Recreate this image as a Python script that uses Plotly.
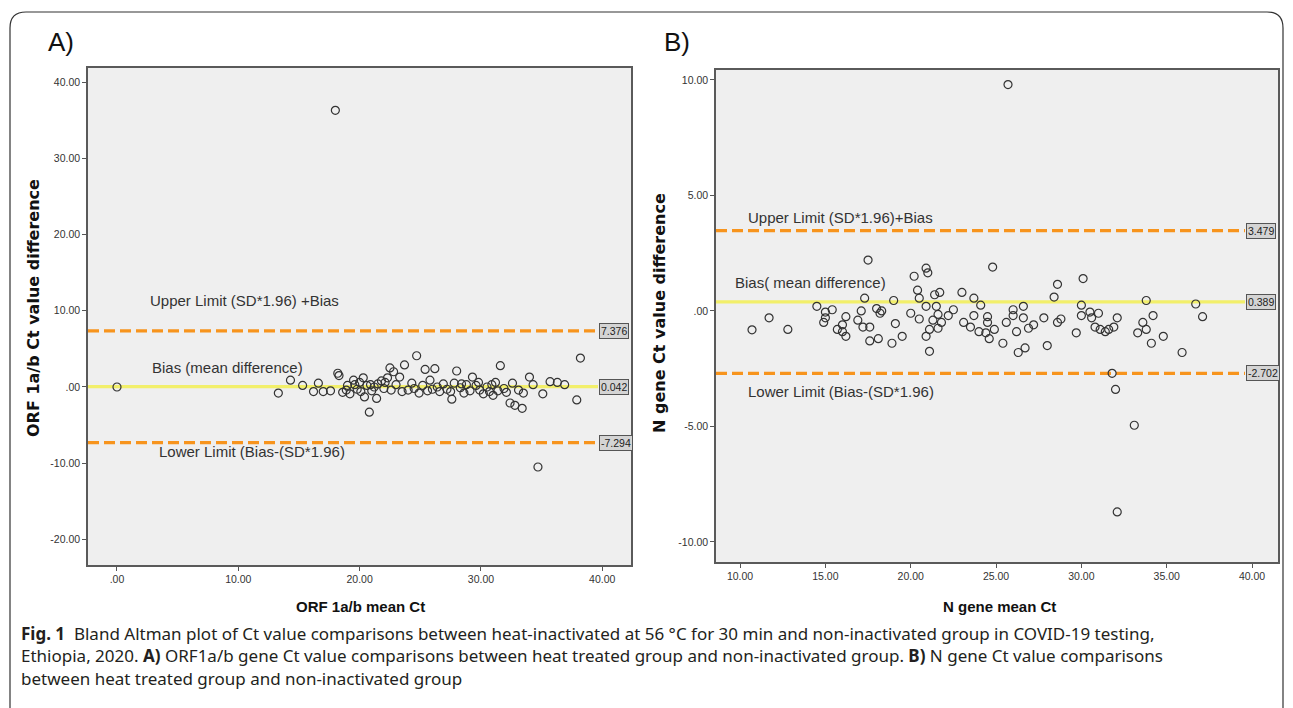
import plotly.graph_objects as go

# page is 1293x708; the browser adds an 8px body margin, so the figure is drawn 8px smaller
PAGE_W, PAGE_H, OFF = 1293, 708, 8
W, H = PAGE_W - OFF, PAGE_H - OFF

# ---------------- DATA ----------------
# Panel A: ORF1a/b
orf_mean = [0.0, 18.0, 13.3, 14.3, 15.3, 16.6, 16.2, 17.0, 17.6, 18.2, 18.3, 18.6, 18.9, 19.2, 19.5,
            19.6, 19.8, 20.0, 20.3, 20.4, 20.6, 20.8, 21.0, 21.4, 21.5, 21.8, 22.0, 22.3, 22.5, 22.8,
            22.6, 23.0, 23.3, 23.5, 23.7, 24.0, 24.3, 24.7, 24.9, 25.2, 25.4, 25.6, 25.8, 26.2, 26.4,
            26.6, 26.9, 27.2, 27.5, 27.6, 27.8, 28.0, 28.3, 28.6, 28.8, 29.1, 29.3, 29.6, 29.9, 30.2,
            30.5, 30.7, 31.0, 31.2, 31.4, 31.6, 31.9, 32.1, 32.4, 32.6, 32.8, 33.1, 33.4, 33.5, 34.0,
            34.3, 34.7, 35.1, 35.7, 36.3, 36.9, 37.9, 38.2, 19.0, 20.1, 20.9, 21.2, 22.1, 24.5, 26.0,
            28.4, 29.8, 30.9]
orf_diff = [0.0, 36.3, -0.8, 0.9, 0.2, 0.5, -0.6, -0.6, -0.5, 1.8, 1.5, -0.7, -0.4, -0.9, 0.9,
            0.3, -0.3, 0.6, 1.2, -1.3, 0.2, -3.3, -0.5, -1.5, 0.4, 0.8, -0.2, 1.2, 2.5, 2.0,
            -0.4, 0.3, 1.3, -0.6, 2.9, -0.4, 0.5, 4.1, -0.8, 0.2, 2.3, -0.5, 0.9, 2.4, 0.0,
            -0.6, 0.4, -0.3, -0.6, -1.6, 0.5, 2.1, -0.1, -0.8, 0.3, -0.5, 1.3, 0.2, -0.4, -0.9,
            0.0, -0.6, -1.1, 0.6, -0.5, 2.8, -0.2, -0.7, -2.1, 0.5, -2.4, -0.4, -2.8, -0.8, 1.3,
            0.3, -10.5, -0.9, 0.7, 0.6, 0.3, -1.7, 3.8, 0.2, -0.6, 0.3, 0.0, 0.6, -0.2, -0.3,
            0.4, 0.6, 0.3]
orf_upper, orf_bias, orf_lower = 7.376, 0.042, -7.294

# Panel B: N gene
n_mean = [10.7, 11.7, 12.8, 14.5, 14.9, 15.0, 15.4, 15.0, 15.7, 16.0, 16.2, 16.2, 16.0, 16.9, 17.1,
          17.3, 17.5, 17.2, 17.6, 17.6, 18.1, 18.0, 18.2, 18.3, 19.0, 19.1, 18.9, 19.5, 20.0, 20.2,
          20.4, 20.5, 20.5, 20.9, 21.0, 20.9, 21.1, 21.1, 20.9, 21.4, 21.7, 21.3, 21.6, 21.6, 21.8,
          21.5, 22.2, 22.5, 23.0, 23.1, 23.5, 23.7, 23.7, 24.0, 24.1, 24.5, 24.5, 24.4, 24.6, 24.8,
          24.9, 25.4, 25.6, 26.0, 26.0, 26.2, 26.3, 26.7, 26.6, 26.6, 26.9, 27.2, 27.8, 28.0, 28.4,
          28.6, 28.6, 28.8, 29.7, 30.1, 30.0, 30.0, 30.5, 30.6, 31.0, 30.8, 31.1, 31.4, 31.6, 31.9,
          32.1, 31.8, 32.0, 33.3, 33.6, 33.8, 33.8, 34.2, 34.1, 34.8, 35.9, 36.7, 37.1, 25.7, 33.1,
          32.1]
n_diff = [-0.82, -0.3, -0.8, 0.2, -0.5, -0.05, 0.05, -0.3, -0.8, -0.6, -0.25, -1.1, -0.9, -0.4, 0.0,
          0.55, 2.2, -0.7, -0.7, -1.3, -1.2, 0.1, -0.1, 0.0, 0.45, -0.55, -1.4, -1.1, -0.1, 1.5,
          0.9, -0.35, 0.55, 1.85, 1.65, -1.1, -1.75, -0.8, 0.2, 0.7, 0.8, -0.4, -0.15, -0.75, -0.5,
          0.2, -0.2, 0.05, 0.8, -0.5, -0.7, 0.55, -0.2, -0.9, 0.25, -0.25, -0.5, -0.95, -1.2, 1.9,
          -0.8, -1.4, -0.5, 0.05, -0.2, -0.9, -1.8, -1.6, -0.3, 0.2, -0.75, -0.6, -0.3, -1.5, 0.6,
          1.15, -0.5, -0.35, -0.95, 1.4, 0.25, -0.2, -0.05, -0.3, -0.1, -0.7, -0.8, -0.9, -0.8, -0.7,
          -0.3, -2.7, -3.4, -0.95, -0.5, -0.8, 0.45, -0.2, -1.4, -1.1, -1.8, 0.3, -0.25, 9.8, -4.95,
          -8.7]
n_upper, n_bias, n_lower = 3.479, 0.389, -2.702

orf_yticks = [40, 30, 20, 10, 0, -10, -20]
orf_yticktext = ["40.00", "30.00", "20.00", "10.00", ".00", "-10.00", "-20.00"]
orf_xticks = [0, 10, 20, 30, 40]
orf_xticktext = [".00", "10.00", "20.00", "30.00", "40.00"]
n_yticks = [10, 5, 0, -5, -10]
n_yticktext = ["10.00", "5.00", ".00", "-5.00", "-10.00"]
n_xticks = [10, 15, 20, 25, 30, 35, 40]
n_xticktext = ["10.00", "15.00", "20.00", "25.00", "30.00", "35.00", "40.00"]

# ---------------- LAYOUT HELPERS (page pixel -> paper) ----------------
def px(x):
    return (x - OFF) / W

def py(y):
    return 1 - (y - OFF) / H

# panel frames in page pixels (left, top, right, bottom)
A_box = (88, 68, 631, 565)
B_box = (716, 70, 1278, 562)
A_xr, A_yr = [-2.39, 42.37], [-23.36, 41.86]
B_xr, B_yr = [8.59, 41.52], [-10.87, 10.43]

NARROW = "Liberation Sans Narrow, Arial Narrow, Arial, sans-serif"
SANS = "Liberation Sans, Arial, sans-serif"
ORANGE = "#f7941d"
YELLOW = "#f2ef6a"
MARK = "#333333"

fig = go.Figure()

def data_x_at(px_val, box, xr):
    l, _, r, _ = box
    return xr[0] + (px_val - l) / (r - l) * (xr[1] - xr[0])

def add_panel(xa, ya, xs, ys, upper, bias, lower, box, xr, line_end_px):
    xend = data_x_at(line_end_px, box, xr)
    for val, col, dash in [(upper, ORANGE, "11px,5px"), (lower, ORANGE, "11px,5px"), (bias, YELLOW, "solid")]:
        fig.add_trace(go.Scatter(x=[xr[0], xend], y=[val, val], mode="lines",
                                 line=dict(color=col, width=3.2, dash=dash),
                                 xaxis=xa, yaxis=ya, showlegend=False, hoverinfo="skip"))
    fig.add_trace(go.Scatter(x=xs, y=ys, mode="markers",
                             marker=dict(symbol="circle-open", size=8, color=MARK, line=dict(width=1.2)),
                             xaxis=xa, yaxis=ya, showlegend=False))
    for val in (upper, bias, lower):
        fig.add_annotation(x=xend, y=val, xref=xa, yref=ya, text=f"{val:.3f}",
                           showarrow=False, xanchor="left", yanchor="middle", xshift=1,
                           font=dict(family=NARROW, size=10.5, color="#222"),
                           bgcolor="#d4d4d4", bordercolor="#555", borderwidth=1, borderpad=1)

add_panel("x", "y", orf_mean, orf_diff, orf_upper, orf_bias, orf_lower, A_box, A_xr, 598)
add_panel("x2", "y2", n_mean, n_diff, n_upper, n_bias, n_lower, B_box, B_xr, 1245)

axis_common = dict(showline=True, mirror=True, linecolor="#5a5a5a", linewidth=1.5,
                   showgrid=False, zeroline=False, ticks="outside", ticklen=4, tickcolor="#555",
                   tickfont=dict(family=NARROW, size=10.5, color="#333"))

fig.update_layout(
    width=W, height=H, autosize=False,
    margin=dict(l=0, r=0, t=0, b=0),
    paper_bgcolor="white", plot_bgcolor="#efefef",
    xaxis=dict(domain=[px(A_box[0]), px(A_box[2])], range=A_xr, anchor="y",
               tickvals=orf_xticks, ticktext=orf_xticktext, **axis_common),
    yaxis=dict(domain=[py(A_box[3]), py(A_box[1])], range=A_yr, anchor="x",
               tickvals=orf_yticks, ticktext=orf_yticktext, **axis_common),
    xaxis2=dict(domain=[px(B_box[0]), px(B_box[2])], range=B_xr, anchor="y2",
                tickvals=n_xticks, ticktext=n_xticktext, **axis_common),
    yaxis2=dict(domain=[py(B_box[3]), py(B_box[1])], range=B_yr, anchor="x2",
                tickvals=n_yticks, ticktext=n_yticktext, **axis_common),
)

def text_px(x, y, s, size, family=SANS, color="#333", xanchor="left", angle=0, bold=False):
    fig.add_annotation(x=px(x), y=py(y), xref="paper", yref="paper", text=(f"<b>{s}</b>" if bold else s),
                       showarrow=False, xanchor=xanchor, yanchor="middle", textangle=angle,
                       font=dict(family=family, size=size, color=color))

# panel letters
text_px(46, 42, "A)", 26, color="#111")
text_px(662, 42, "B)", 26, color="#111")

# reference-line labels
text_px(148, 300, "Upper Limit (SD*1.96) +Bias", 15)
text_px(150, 367, "Bias (mean difference)", 15)
text_px(157, 451, "Lower Limit (Bias-(SD*1.96)", 15)
text_px(746, 217, "Upper Limit (SD*1.96)+Bias", 15)
text_px(733, 283, "Bias( mean difference)", 15)
text_px(746, 391, "Lower Limit (Bias-(SD*1.96)", 15)

# axis titles
text_px(33, 308, "ORF 1a/b Ct value difference", 16, family="DejaVu Sans", color="#111", xanchor="center", angle=-90, bold=True)
text_px(360, 606, "ORF 1a/b mean Ct", 15, family=NARROW, color="#111", xanchor="center", bold=True)
text_px(659, 313, "N gene Ct value difference", 16, family="DejaVu Sans", color="#111", xanchor="center", angle=-90, bold=True)
text_px(999, 606, "N gene mean Ct", 15, family=NARROW, color="#111", xanchor="center", bold=True)

# caption
CAP = "Noto Sans, Open Sans, sans-serif"
cap_lines = [
    "<b>Fig. 1</b>  Bland Altman plot of Ct value comparisons between heat-inactivated at 56 °C for 30 min and non-inactivated group in COVID-19 testing,",
    "Ethiopia, 2020. <b>A)</b> ORF1a/b gene Ct value comparisons between heat treated group and non-inactivated group. <b>B)</b> N gene Ct value comparisons",
    "between heat treated group and non-inactivated group",
]
for i, line in enumerate(cap_lines):
    text_px(19, 633 + i * 22.5, line, 17, family=CAP, color="#231f20")

# outer rounded frame
r = 16
x0, x1, y0, y1 = 10, 1283, 12, 730
path = (f"M {px(x0)},{py(y1)} L {px(x0)},{py(y0 + r)} Q {px(x0)},{py(y0)} {px(x0 + r)},{py(y0)} "
        f"L {px(x1 - r)},{py(y0)} Q {px(x1)},{py(y0)} {px(x1)},{py(y0 + r)} L {px(x1)},{py(y1)}")
fig.add_shape(type="path", path=path, xref="paper", yref="paper", line=dict(color="#333", width=1.2))

fig.write_html("out.html")
